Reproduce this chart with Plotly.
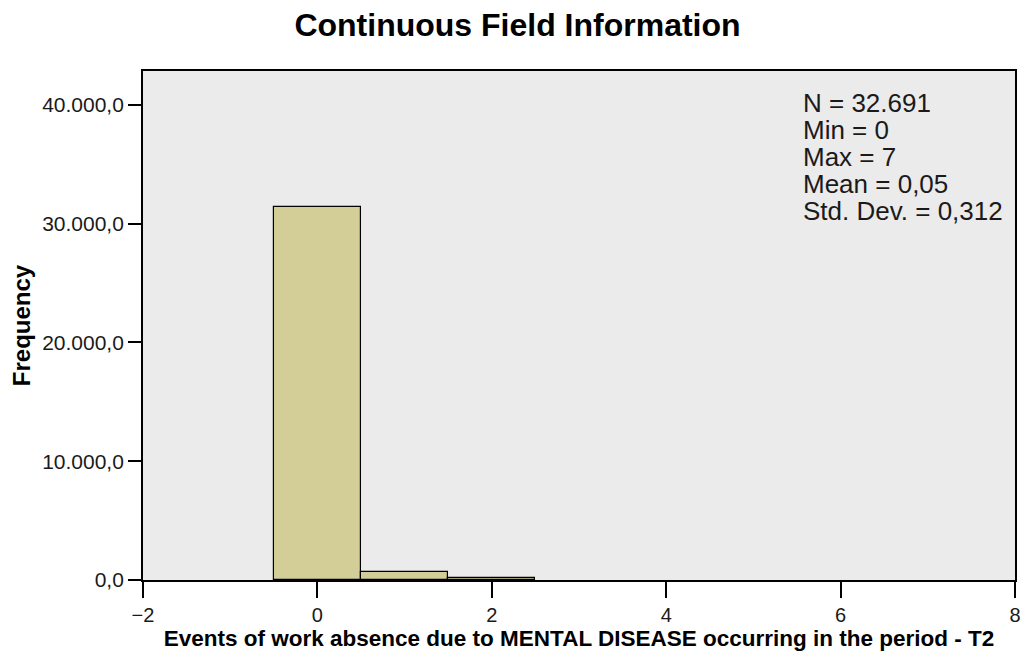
import plotly.graph_objects as go

# histogram bins (value of events) and their frequencies
events = [0, 1, 2]
frequency = [31450, 650, 140]

stats_lines = ["N = 32.691", "Min = 0", "Max = 7", "Mean = 0,05", "Std. Dev. = 0,312"]

x_ticks = [-2, 0, 2, 4, 6, 8]
y_ticks = [0, 10000, 20000, 30000, 40000]

FONT = "Liberation Sans, Arial, sans-serif"

fig = go.Figure()
fig.add_trace(go.Bar(
    x=events,
    y=frequency,
    width=1,
    marker=dict(color="#D3CE97", line=dict(color="black", width=1.2)),
    showlegend=False,
))

# stats box text, one annotation per line to keep the tight line spacing
for i, line in enumerate(stats_lines):
    fig.add_annotation(
        x=0.755, y=0.937 - i * 0.053, xref="paper", yref="paper",
        xanchor="left", yanchor="middle", align="left",
        text=line, showarrow=False,
        font=dict(family=FONT, size=26, color="#1a1a1a"),
    )

fig.update_layout(
    title=dict(
        text="<b>Continuous Field Information</b>",
        x=0.5, xanchor="center", y=0.9736, yanchor="middle",
        font=dict(family=FONT, size=32, color="black"),
    ),
    separators=",.",
    paper_bgcolor="white",
    plot_bgcolor="#EBEBEB",
    width=1019,
    height=643,
    margin=dict(l=135, r=6, t=63, b=70),
    bargap=0,
    xaxis=dict(
        range=[-2, 8],
        tickvals=x_ticks,
        ticks="outside", ticklen=16, tickcolor="black", tickwidth=1.5,
        showline=True, linecolor="black", linewidth=1.8, mirror=True,
        showgrid=False, zeroline=False,
        tickfont=dict(family=FONT, size=20, color="#1a1a1a"),
        title=dict(
            text="<b>Events of work absence due to MENTAL DISEASE occurring in the period - T2</b>",
            font=dict(family=FONT, size=22.5, color="black"),
            standoff=3,
        ),
    ),
    yaxis=dict(
        range=[0, 42860],
        tickvals=y_ticks,
        tickformat=",.1f",
        ticks="outside", ticklen=13, tickcolor="black", tickwidth=1.5,
        showline=True, linecolor="black", linewidth=1.8, mirror=True,
        showgrid=False, zeroline=False,
        tickfont=dict(family=FONT, size=21, color="#1a1a1a"),
        title=dict(
            text="<b>Frequency</b>",
            font=dict(family=FONT, size=24, color="black"),
            standoff=5,
        ),
    ),
)

fig.write_html("out.html")
